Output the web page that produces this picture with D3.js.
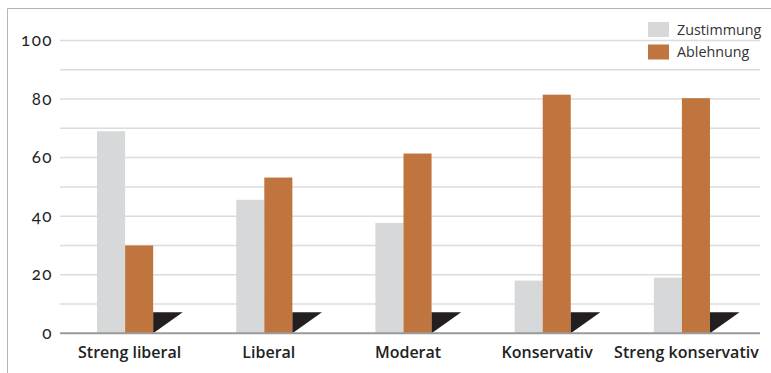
<!DOCTYPE html>
<html>
<head>
<meta charset="utf-8">
<script src="https://cdn.jsdelivr.net/npm/d3@7"></script>
<style>
  html, body { margin: 0; padding: 0; background: #fff; }
  svg { display: block; }
</style>
</head>
<body>
<svg id="chart" width="771" height="373"></svg>
<script>
// Haltung nach politischer Selbsteinordnung, Anteile in Prozent
const categories = ["Streng liberal", "Liberal", "Moderat", "Konservativ", "Streng konservativ"];
const zustimmung = [69, 45.6, 37.7, 18, 19];
const ablehnung  = [30, 53.2, 61.4, 81.5, 80.3];
const rest       = [7.2, 7.2, 7.2, 7.2, 7.2];
const seriesNames = ["Zustimmung", "Ablehnung", "Rest"];
const legendNames = ["Zustimmung", "Ablehnung"];
const yTicks = [0, 20, 40, 60, 80, 100];
const gridTicks = [10, 20, 30, 40, 50, 60, 70, 80, 90, 100];

const colors = { Zustimmung: "#d7d8da", Ablehnung: "#c0753e", Rest: "#231f20" };

const svg = d3.select("#chart");
const W = 771, H = 373;

// Rahmen
svg.append("path")
  .attr("d", `M7.5,${H} V8.5 H${W}`)
  .attr("fill", "none")
  .attr("stroke", "#b5b5b5")
  .attr("stroke-width", 1);

const plot = { left: 60, right: 760, top: 40.5, bottom: 333.3 };

const x0 = d3.scaleBand().domain(categories).range([plot.left, plot.right - 4]);
const bw = x0.bandwidth();
const x1 = d3.scaleBand().domain(seriesNames).range([bw * 0.266, bw * 0.871]);
const y = d3.scaleLinear().domain([0, 100]).range([plot.bottom, plot.top]);

// Gitterlinien
svg.append("g")
  .selectAll("line")
  .data(gridTicks)
  .join("line")
  .attr("x1", plot.left)
  .attr("x2", plot.right)
  .attr("y1", d => y(d))
  .attr("y2", d => y(d))
  .attr("stroke", "#dcdcdc")
  .attr("stroke-width", 1.5);

// Y-Achse
const yAxis = d3.axisLeft(y).tickValues(yTicks).tickSize(0).tickPadding(0);
const gy = svg.append("g").attr("transform", `translate(${plot.left - 7},0)`).call(yAxis);
gy.select(".domain").remove();
gy.attr("font-size", 17)
  .attr("font-family", "Lato, 'Noto Sans', sans-serif")
  .attr("font-weight", 400);
gy.selectAll("text")
  .attr("dy", "0.3em")
  .attr("fill", "#222")
  .style("letter-spacing", "1.5px")
  .style("font-feature-settings", "'onum'");

const rows = categories.map((c, i) => ({
  cat: c,
  values: [
    { key: "Zustimmung", v: zustimmung[i] },
    { key: "Ablehnung", v: ablehnung[i] },
    { key: "Rest", v: rest[i] }
  ]
}));

const groups = svg.append("g")
  .selectAll("g")
  .data(rows)
  .join("g")
  .attr("transform", d => `translate(${x0(d.cat)},0)`);

// Balken
groups.selectAll("rect")
  .data(d => d.values.filter(v => v.key !== "Rest"))
  .join("rect")
  .attr("x", d => x1(d.key))
  .attr("y", d => y(d.v))
  .attr("width", x1.bandwidth())
  .attr("height", d => y(0) - y(d.v))
  .attr("fill", d => colors[d.key]);

// Dreieckige Marke
groups.selectAll("path")
  .data(d => d.values.filter(v => v.key === "Rest"))
  .join("path")
  .attr("d", d => {
    const xa = x1(d.key), xb = xa + x1.bandwidth() + 1.5;
    return `M${xa},${y(d.v)} H${xb} L${xa},${y(0)} Z`;
  })
  .attr("fill", colors.Rest);

// Grundlinie
svg.append("line")
  .attr("x1", plot.left)
  .attr("x2", plot.right)
  .attr("y1", y(0))
  .attr("y2", y(0))
  .attr("stroke", "#9a9a9a")
  .attr("stroke-width", 2);

// Kategorienbeschriftung
const xAxis = d3.axisBottom(x0).tickSize(0).tickPadding(0);
const gx = svg.append("g").attr("transform", `translate(0,${plot.bottom + 19})`).call(xAxis);
gx.select(".domain").remove();
gx.attr("font-size", 16)
  .attr("font-family", "'Open Sans', sans-serif")
  .attr("font-weight", 600);
gx.selectAll("text").attr("dy", "0.35em").attr("fill", "#222");

// Legende
const legend = svg.append("g")
  .selectAll("g")
  .data(legendNames)
  .join("g")
  .attr("transform", (d, i) => `translate(648,${22 + i * 22.5})`);
legend.append("rect")
  .attr("width", 21)
  .attr("height", 15)
  .attr("fill", d => colors[d]);
legend.append("text")
  .attr("x", 29)
  .attr("y", 7.5)
  .attr("dy", "0.35em")
  .attr("font-family", "'Open Sans', sans-serif")
  .attr("font-size", 14.3)
  .attr("fill", "#333")
  .text(d => d);
</script>
</body>
</html>
